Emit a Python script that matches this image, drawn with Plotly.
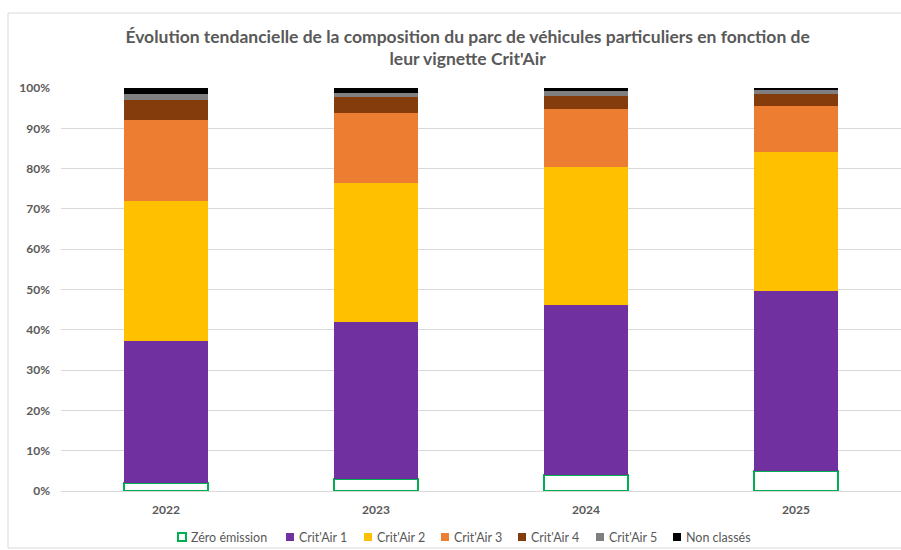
import plotly.graph_objects as go

# Parc de véhicules particuliers par vignette Crit'Air (part en %)
years = ["2022", "2023", "2024", "2025"]
zero_emission = [2.1, 3.0, 3.9, 4.9]
crit_air_1 = [35.2, 38.9, 42.2, 44.8]
crit_air_2 = [34.7, 34.5, 34.3, 34.3]
crit_air_3 = [20.0, 17.3, 14.3, 11.5]
crit_air_4 = [5.1, 4.1, 3.3, 3.1]
crit_air_5 = [1.3, 1.0, 1.2, 1.0]
non_classes = [1.6, 1.2, 0.8, 0.4]

y_ticks = [0, 10, 20, 30, 40, 50, 60, 70, 80, 90, 100]
y_tick_labels = [f"{v}%" for v in y_ticks]

FONT = "Lato, Open Sans, sans-serif"
GREY_TXT = "#595959"

series = [
    ("Zéro émission", zero_emission, "#FFFFFF", "#00B050", 2),
    ("Crit'Air 1", crit_air_1, "#7030A0", None, 0),
    ("Crit'Air 2", crit_air_2, "#FFC000", None, 0),
    ("Crit'Air 3", crit_air_3, "#ED7D31", None, 0),
    ("Crit'Air 4", crit_air_4, "#843C0C", None, 0),
    ("Crit'Air 5", crit_air_5, "#7F7F7F", None, 0),
    ("Non classés", non_classes, "#000000", None, 0),
]

# Plot area geometry in pixels (used to place the hand-built legend)
W, H = 901, 550
ML, MR, MT, MB = 61, 0, 88, 59
PW, PH = W - ML - MR, H - MT - MB


def px_x(px):
    return (px - ML) / PW


def px_y(py):
    return (H - MB - py) / PH


fig = go.Figure()
for name, vals, fill, line_col, line_w in series:
    fig.add_trace(go.Bar(
        name=name,
        x=years,
        y=vals,
        marker=dict(color=fill,
                    line=dict(color=line_col or fill, width=line_w)),
        hovertemplate="%{x} – " + name + " : %{y:.1f}%<extra></extra>",
        showlegend=False,
    ))

# Legend row: small square swatch followed by its label
legend_left = [178, 286, 364, 441, 518, 596, 673]
legend_y = 537
sq = 8
for (name, _, fill, line_col, line_w), x0 in zip(series, legend_left):
    fig.add_shape(
        type="rect", xref="paper", yref="paper",
        x0=px_x(x0), x1=px_x(x0 + sq),
        y0=px_y(legend_y + sq / 2), y1=px_y(legend_y - sq / 2),
        fillcolor=fill,
        line=dict(color=line_col or fill, width=line_w if line_w else 0),
    )
    fig.add_annotation(
        x=px_x(x0 + sq + 3), y=px_y(legend_y),
        xref="paper", yref="paper",
        xanchor="left", yanchor="middle",
        text=name, showarrow=False,
        font=dict(family=FONT, size=12.5, color=GREY_TXT),
    )

# Outer frame of the chart area
fig.add_shape(type="rect", xref="paper", yref="paper",
              x0=px_x(8), x1=px_x(905), y0=px_y(548), y1=px_y(13),
              line=dict(color="#D9D9D9", width=1), fillcolor="rgba(0,0,0,0)",
              layer="below")

fig.update_layout(
    width=W, height=H,
    barmode="stack",
    bargap=0.6,
    paper_bgcolor="white",
    plot_bgcolor="white",
    margin=dict(l=ML, r=MR, t=MT, b=MB),
    title=dict(
        text="<b>Évolution tendancielle de la composition du parc de véhicules particuliers en fonction de<br>leur vignette Crit'Air</b>",
        x=0.519, xanchor="center", xref="container",
        y=0.9225, yanchor="top", yref="container",
        font=dict(family=FONT, size=17.5, color=GREY_TXT),
    ),
    font=dict(family=FONT, size=12, color=GREY_TXT),
    xaxis=dict(
        type="category",
        showgrid=False,
        showline=True, linecolor="#D9D9D9", linewidth=1,
        tickfont=dict(family=FONT, size=12, color=GREY_TXT, weight="bold"),
        ticklabelstandoff=8,
        fixedrange=True,
    ),
    yaxis=dict(
        range=[0, 100],
        tickvals=y_ticks,
        ticktext=y_tick_labels,
        showgrid=True, gridcolor="#D9D9D9", gridwidth=1,
        zeroline=False,
        showline=False,
        tickfont=dict(family=FONT, size=12, color=GREY_TXT, weight="bold"),
        ticklabelstandoff=10,
        fixedrange=True,
    ),
    showlegend=False,
)

fig.write_html("out.html")
